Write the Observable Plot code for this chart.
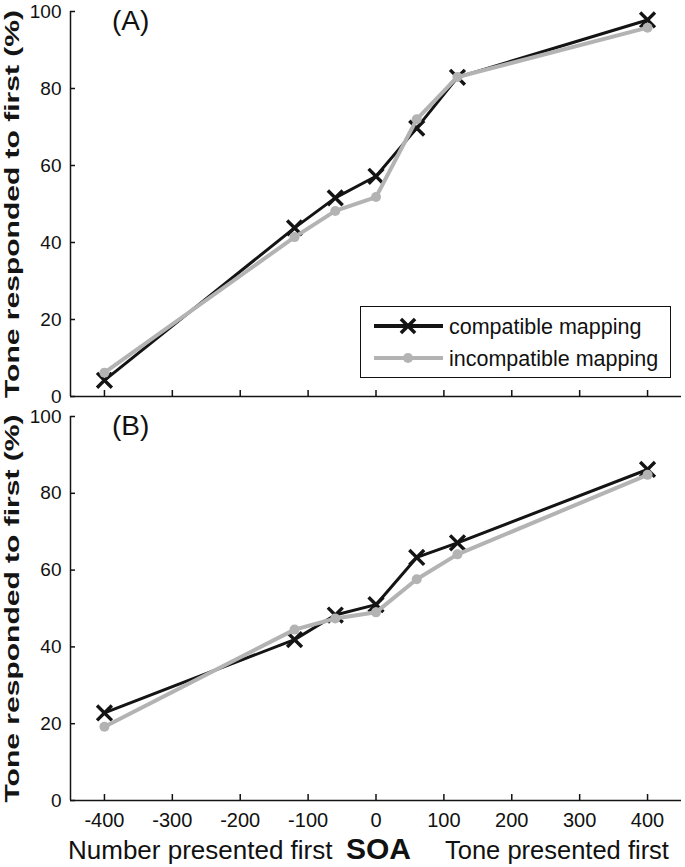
<!DOCTYPE html>
<html>
<head>
<meta charset="utf-8">
<script src="https://cdn.jsdelivr.net/npm/d3@7"></script>
<script src="https://cdn.jsdelivr.net/npm/@observablehq/plot@0.6"></script>
<style>
  html, body { margin: 0; padding: 0; background: #fff; }
  #wrap { position: relative; width: 685px; height: 867px; font-family: "Liberation Sans", Arial, sans-serif; color: #111; }
  .abs { position: absolute; white-space: nowrap; }
  .panel { position: absolute; left: 0; }
</style>
</head>
<body>
<div id="wrap"></div>
<script>
// ---- data ----
const soa = [-400, -120, -60, 0, 60, 120, 400];
const compatibleA   = [4.2, 43.8, 51.6, 57.2, 69.7, 82.9, 97.8];
const incompatibleA = [6.2, 41.4, 48.2, 51.8, 72.0, 83.0, 95.8];
const compatibleB   = [22.8, 41.9, 48.3, 51.0, 63.3, 67.1, 86.2];
const incompatibleB = [19.2, 44.5, 47.4, 49.0, 57.6, 64.1, 84.8];
const xTicks = [-400, -300, -200, -100, 0, 100, 200, 300, 400];
const yTicks = [0, 20, 40, 60, 80, 100];
const xDomain = [-450, 450];
const yDomain = [0, 100];
const seriesNames = ["compatible mapping", "incompatible mapping"];
const panelNames = ["(A)", "(B)"];
const yLabel = "Tone responded to first (%)";
const xLabelLeft = "Number presented first";
const xLabelMid = "SOA";
const xLabelRight = "Tone presented first";

const BLACK = "#141414", GRAY = "#b3b3b3";

function panel(compat, incompat, {marginTop, marginBottom, height, showXLabels}) {
  const rc = soa.map((s, i) => ({soa: s, v: compat[i]}));
  const ri = soa.map((s, i) => ({soa: s, v: incompat[i]}));
  const chart = Plot.plot({
    width: 685, height, marginLeft: 70, marginRight: 4, marginTop, marginBottom,
    x: {domain: xDomain},
    y: {domain: yDomain},
    style: {fontFamily: "'Liberation Sans', Arial, sans-serif", fontSize: "19px", background: "transparent", overflow: "visible", color: "#111"},
    marks: [
      Plot.ruleX([xDomain[0]], {stroke: BLACK, strokeWidth: 1.5}),
      Plot.ruleY([yDomain[0]], {stroke: BLACK, strokeWidth: 1.5}),
      Plot.axisY(yTicks, {tickSize: -5, tickPadding: 14, fontSize: 19, label: null, strokeWidth: 1.5, tickFormat: d => String(d)}),
      Plot.axisX(xTicks, {tickSize: -6, tickPadding: 18, fontSize: 20, label: null, strokeWidth: 1.5,
        tickFormat: showXLabels ? (d => String(d)) : (() => "")}),
      Plot.line(rc, {x: "soa", y: "v", stroke: BLACK, strokeWidth: 3}),
      Plot.dot(rc, {x: "soa", y: "v", symbol: "times", r: 6.8, stroke: BLACK, strokeWidth: 3.4}),
      Plot.line(ri, {x: "soa", y: "v", stroke: GRAY, strokeWidth: 4}),
      Plot.dot(ri, {x: "soa", y: "v", r: 5, fill: GRAY}),
      Plot.text([yLabel], {frameAnchor: "left", textAnchor: "middle", rotate: -90, dx: -58, fontSize: 21, fontWeight: "bold",
        fill: BLACK})
    ]
  });
  d3.select(chart).selectAll("text")
    .filter(function() { return this.textContent === yLabel; })
    .attr("textLength", 388).attr("lengthAdjust", "spacingAndGlyphs");
  return chart;
}

const wrap = document.getElementById("wrap");

const a = panel(compatibleA, incompatibleA, {marginTop: 11, marginBottom: 4, height: 400, showXLabels: false});
a.classList.add("panel"); a.style.top = "0px";
wrap.appendChild(a);

const b = panel(compatibleB, incompatibleB, {marginTop: 16, marginBottom: 40, height: 440, showXLabels: true});
b.classList.add("panel"); b.style.top = "400px";
wrap.appendChild(b);

function addText(txt, css) {
  const d = document.createElement("div");
  d.className = "abs";
  d.textContent = txt;
  Object.assign(d.style, css);
  wrap.appendChild(d);
  return d;
}

// panel letters
addText(panelNames[0], {left: "112px", top: "7px", fontSize: "28px", lineHeight: "28px"});
addText(panelNames[1], {left: "112px", top: "412px", fontSize: "28px", lineHeight: "28px"});

// bottom labels
addText(xLabelLeft, {left: "68px", top: "837px", fontSize: "26px", lineHeight: "26px"});
addText(xLabelMid, {left: "346px", top: "834px", fontSize: "30px", lineHeight: "30px", fontWeight: "bold"});
addText(xLabelRight, {left: "445px", top: "837px", fontSize: "25.5px", lineHeight: "26px"});

// legend
const lg = document.createElement("div");
lg.className = "abs";
Object.assign(lg.style, {left: "360px", top: "306px", width: "309px", height: "70px", border: "1.5px solid #111", background: "#fff"});
const svg = d3.select(lg).append("svg").attr("width", 309).attr("height", 70).style("position", "absolute").style("left", 0).style("top", 0);
const rows = [
  {name: seriesNames[0], y: 19, color: BLACK, marker: "x"},
  {name: seriesNames[1], y: 51, color: GRAY, marker: "o"}
];
rows.forEach(r => {
  svg.append("line").attr("x1", 13).attr("x2", 82).attr("y1", r.y).attr("y2", r.y)
    .attr("stroke", r.color).attr("stroke-width", 4);
  if (r.marker === "x") {
    svg.append("path").attr("d", d3.symbol(d3.symbolTimes, Math.PI * 6.5 * 6.5)())
      .attr("transform", `translate(47,${r.y})`).attr("stroke", r.color).attr("stroke-width", 3.5).attr("fill", "none");
  } else {
    svg.append("circle").attr("cx", 47).attr("cy", r.y).attr("r", 5).attr("fill", r.color);
  }
  svg.append("text").attr("x", 88).attr("y", r.y).attr("dy", "0.35em")
    .attr("font-family", "'Liberation Sans', Arial, sans-serif").attr("font-size", 21.5).attr("fill", "#111")
    .text(r.name);
});
wrap.appendChild(lg);
</script>
</body>
</html>
